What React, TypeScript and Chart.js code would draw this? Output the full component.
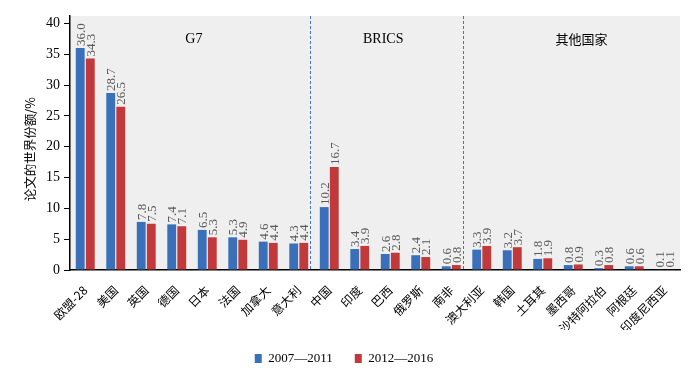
import React, { useEffect, useRef } from "react";
import { Chart, registerables } from "chart.js";

Chart.register(...registerables);

const categories = [
  "欧盟-28", "美国", "英国", "德国", "日本", "法国", "加拿大", "意大利",
  "中国", "印度", "巴西", "俄罗斯", "南非",
  "澳大利亚", "韩国", "土耳其", "墨西哥", "沙特阿拉伯", "阿根廷", "印度尼西亚",
];
const seriesNames = ["2007—2011", "2012—2016"];
const share2007_2011 = [36.0, 28.7, 7.8, 7.4, 6.5, 5.3, 4.6, 4.3, 10.2, 3.4, 2.6, 2.4, 0.6, 3.3, 3.2, 1.8, 0.8, 0.3, 0.6, 0.1];
const share2012_2016 = [34.3, 26.5, 7.5, 7.1, 5.3, 4.9, 4.4, 4.4, 16.7, 3.9, 2.8, 2.1, 0.8, 3.9, 3.7, 1.9, 0.9, 0.8, 0.6, 0.1];
const groupNames = ["G7", "BRICS", "其他国家"];
const yTitle = "论文的世界份额/%\u3000";

const SERIF = '"Liberation Serif", "Times New Roman", "Noto Sans CJK SC", serif';
const CJK = '"Noto Sans CJK SC", sans-serif';

const backgroundPlugin = {
  id: "plotBg",
  beforeDraw(chart: any) {
    const { ctx, chartArea } = chart;
    ctx.save();
    ctx.fillStyle = "#efefef";
    ctx.fillRect(chartArea.left, chartArea.top, chartArea.right - chartArea.left, chartArea.bottom - chartArea.top);
    ctx.restore();
  },
};

const groupPlugin = {
  id: "groups",
  beforeDatasetsDraw(chart: any) {
    const { ctx, chartArea } = chart;
    const xs = chart.scales.x;
    ctx.save();
    ctx.strokeStyle = "#4472c4";
    ctx.lineWidth = 1;
    ctx.setLineDash([3, 2]);
    [7.37, 12.37].forEach((v) => {
      const x = Math.round(xs.getPixelForValue(v)) + 0.5;
      ctx.beginPath();
      ctx.moveTo(x, chartArea.top);
      ctx.lineTo(x, chartArea.bottom);
      ctx.stroke();
    });
    ctx.setLineDash([]);
    ctx.fillStyle = "#000";
    ctx.textAlign = "center";
    ctx.textBaseline = "middle";
    const centers = [3.56, 9.77, 16.27];
    groupNames.forEach((g, i) => {
      ctx.font = i === 2 ? `13px ${CJK}` : `14px ${SERIF}`;
      ctx.fillText(g, xs.getPixelForValue(centers[i]), chartArea.top + 23);
    });
    ctx.restore();
  },
};

const valueLabelPlugin = {
  id: "valueLabels",
  afterDatasetsDraw(chart: any) {
    const { ctx } = chart;
    ctx.save();
    ctx.font = `13px ${SERIF}`;
    ctx.fillStyle = "#595959";
    ctx.textAlign = "left";
    ctx.textBaseline = "middle";
    chart.data.datasets.forEach((ds: any, di: number) => {
      const meta = chart.getDatasetMeta(di);
      meta.data.forEach((bar: any, i: number) => {
        const v = ds.data[i] as number;
        ctx.save();
        ctx.translate(bar.x + 1, bar.y - 2);
        ctx.rotate(-Math.PI / 2);
        ctx.fillText(v.toFixed(1), 0, 0);
        ctx.restore();
      });
    });
    ctx.restore();
  },
};

export default function App() {
  const ref = useRef<HTMLCanvasElement | null>(null);
  useEffect(() => {
    if (!ref.current) return;
    const chart = new Chart(ref.current, {
      type: "bar",
      data: {
        labels: categories,
        datasets: [
          {
            label: seriesNames[0],
            data: share2007_2011,
            backgroundColor: "#3a70b9",
            borderWidth: 0,
            categoryPercentage: 0.66,
            barPercentage: 0.88,
          },
          {
            label: seriesNames[1],
            data: share2012_2016,
            backgroundColor: "#c1393b",
            borderWidth: 0,
            categoryPercentage: 0.66,
            barPercentage: 0.88,
          },
        ],
      },
      options: {
        animation: false,
        responsive: true,
        maintainAspectRatio: false,
        layout: { padding: { top: 8, right: 12, left: 0, bottom: -4 } },
        plugins: {
          tooltip: { enabled: false },
          legend: {
            position: "bottom",
            labels: {
              boxWidth: 7,
              boxHeight: 9,
              padding: 22,
              color: "#000",
              font: { family: SERIF, size: 13 },
            },
          },
        },
        scales: {
          x: {
            grid: { display: true, drawOnChartArea: false, drawTicks: false },
            border: { display: true, color: "#000", width: 1.5 },
            ticks: {
              color: "#000",
              font: { family: CJK, size: 12 },
              maxRotation: 45,
              minRotation: 45,
              autoSkip: false,
              padding: 13,
            },
            afterFit(scale: any) {
              scale.height = 60;
            },
          },
          y: {
            min: 0,
            max: 41.2,
            grid: { display: true, drawOnChartArea: false, drawTicks: true, tickLength: 6, color: "#000" },
            border: { display: true, color: "#000", width: 1.5 },
            ticks: {
              stepSize: 5,
              includeBounds: false,
              color: "#000",
              font: { family: SERIF, size: 14 },
              padding: 4,
            },
            title: {
              display: true,
              text: yTitle,
              color: "#000",
              font: { family: CJK, size: 12.5, weight: "normal" },
              padding: { top: 15, bottom: 0 },
            },
            afterFit(scale: any) {
              scale.width = 62;
              scale.paddingTop = 0;
              scale.paddingBottom = 0;
            },
          },
        },
      },
      plugins: [backgroundPlugin, groupPlugin, valueLabelPlugin],
    });
    return () => chart.destroy();
  }, []);
  return (
    <div style={{ width: 684, height: 363, position: "relative", marginBottom: -8 }}>
      <canvas ref={ref} />
    </div>
  );
}
